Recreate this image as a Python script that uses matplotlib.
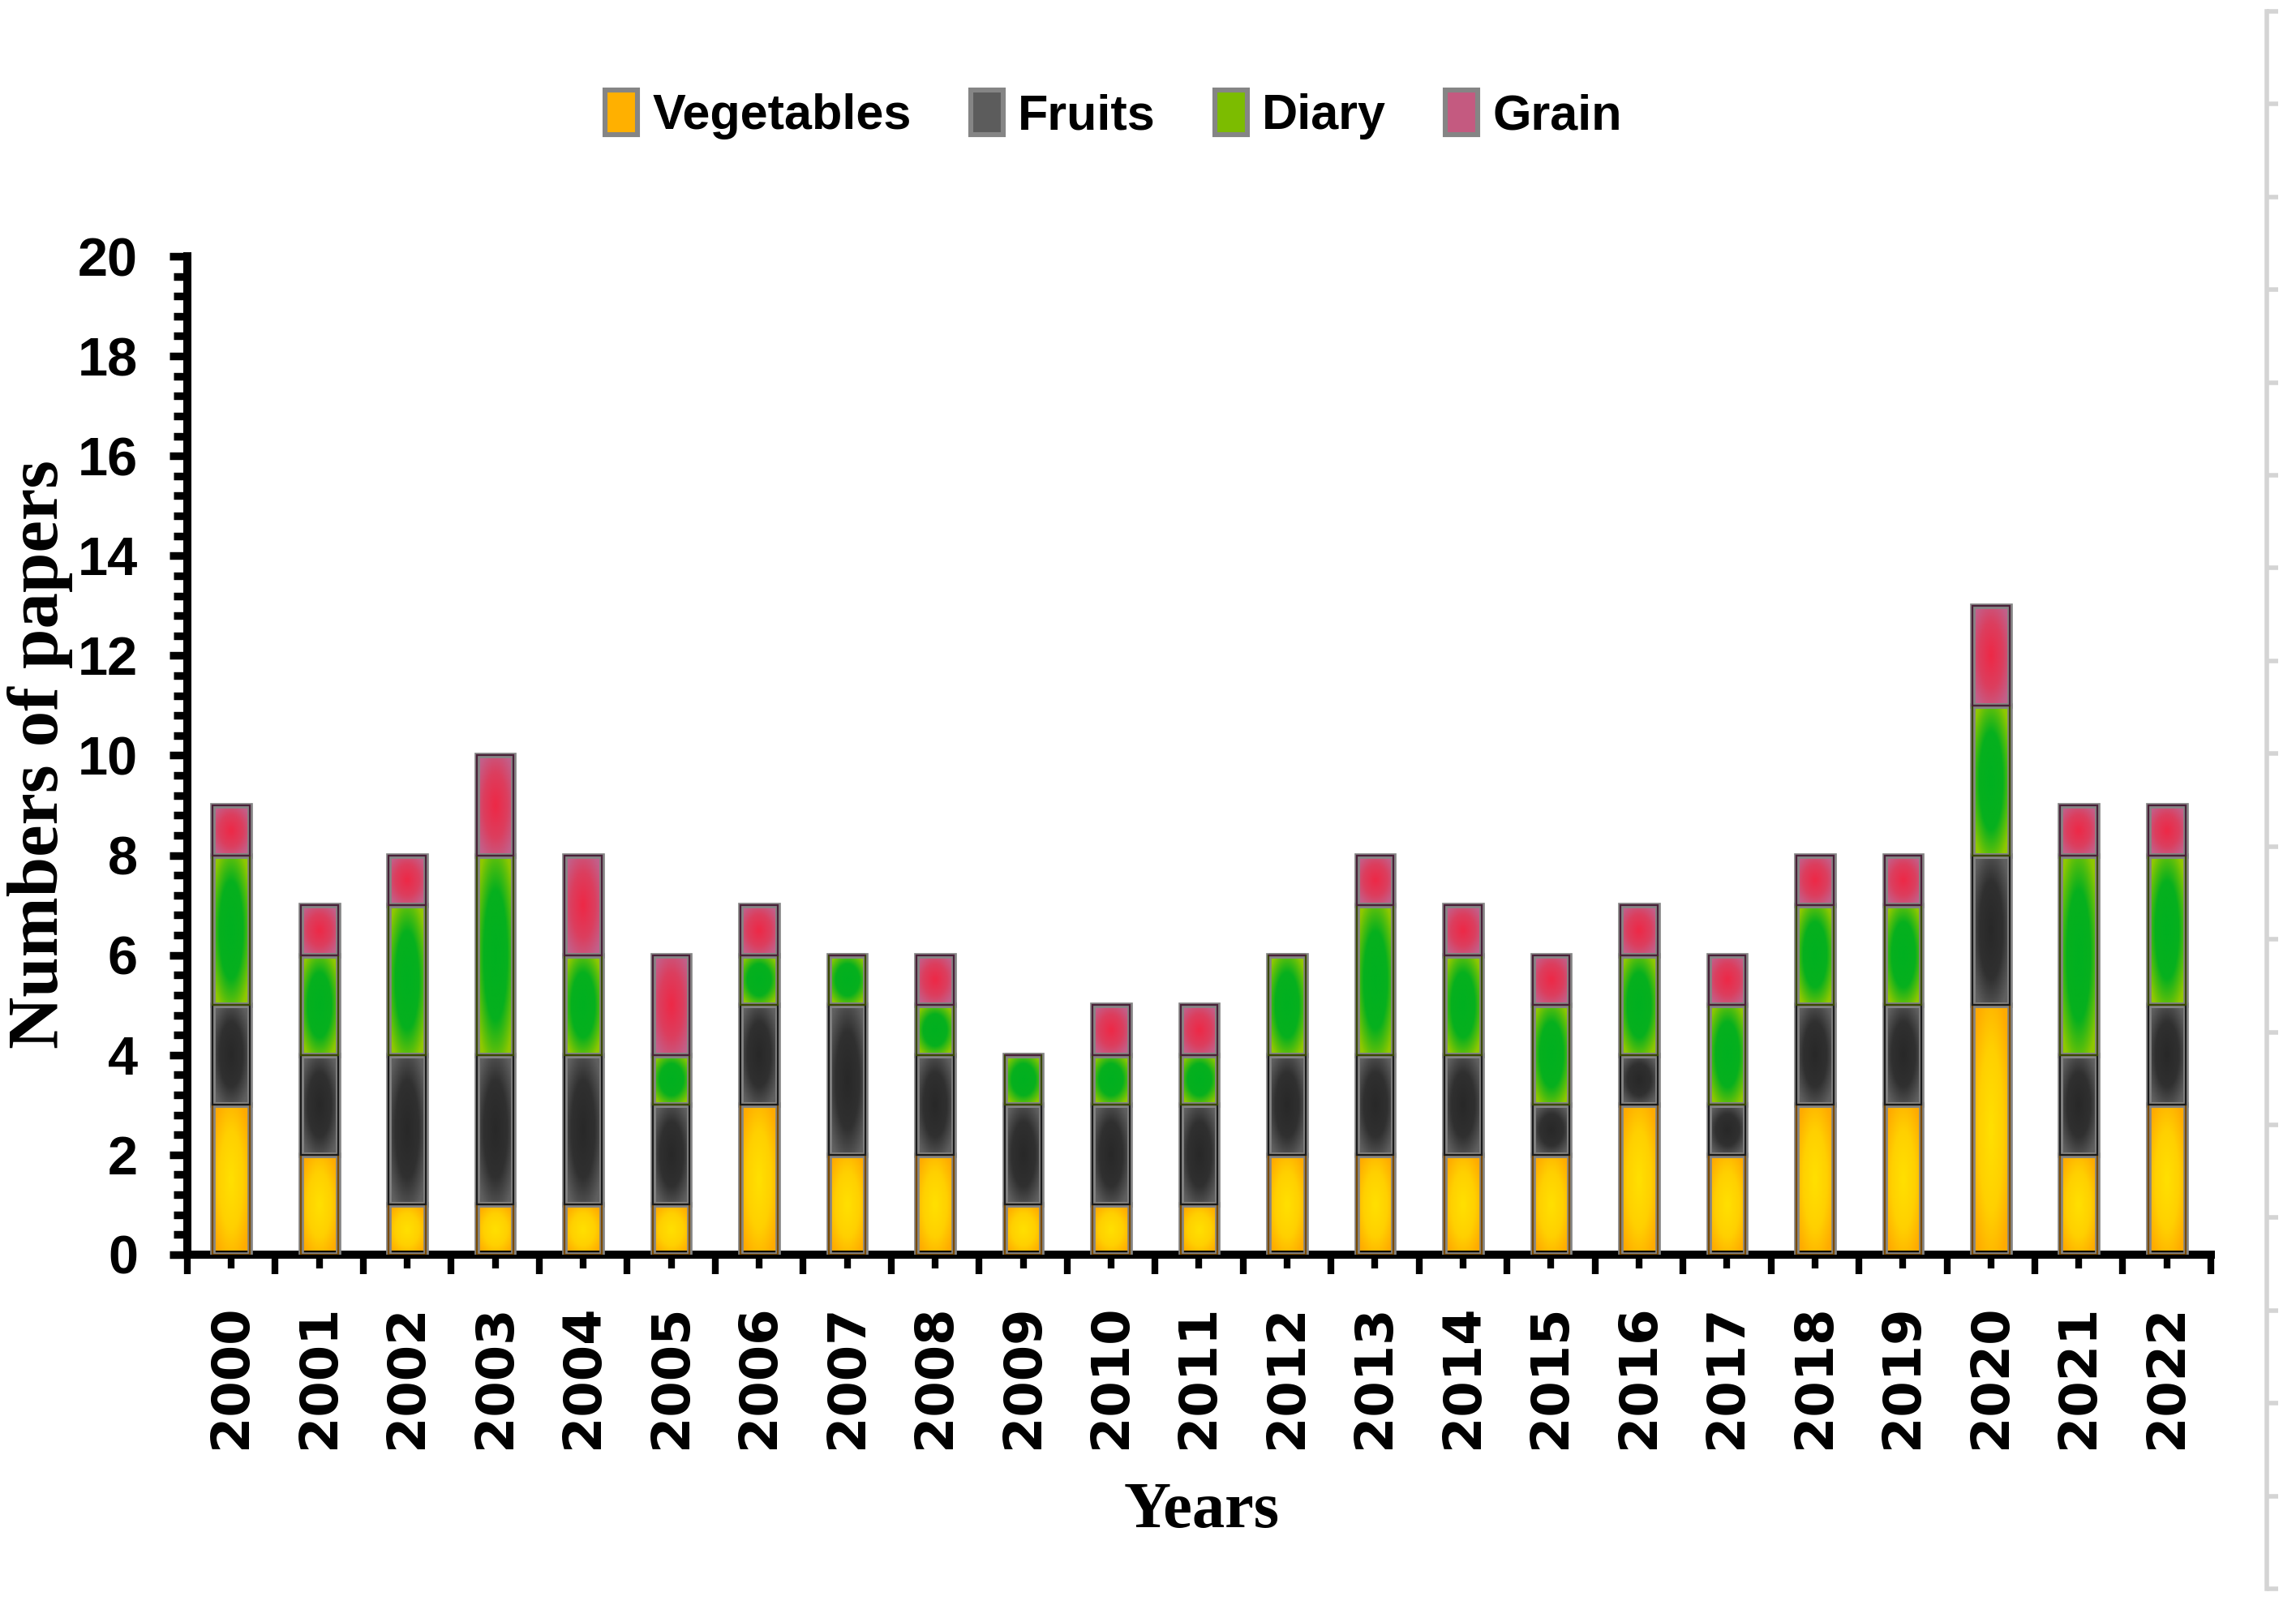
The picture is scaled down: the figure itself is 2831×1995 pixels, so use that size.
import numpy as np
import matplotlib
matplotlib.use('Agg')
import matplotlib.pyplot as plt
from matplotlib.colors import LinearSegmentedColormap
from matplotlib.ticker import MultipleLocator, FixedLocator
from matplotlib.patches import Patch

# ---------------- data ----------------
years = [str(y) for y in range(2000, 2023)]
vegetables = [3, 2, 1, 1, 1, 1, 3, 2, 2, 1, 1, 1, 2, 2, 2, 2, 3, 2, 3, 3, 5, 2, 3]
fruits     = [2, 2, 3, 3, 3, 2, 2, 3, 2, 2, 2, 2, 2, 2, 2, 1, 1, 1, 2, 2, 3, 2, 2]
diary      = [3, 2, 3, 4, 2, 1, 1, 1, 1, 1, 1, 1, 2, 3, 2, 2, 2, 2, 2, 2, 3, 4, 3]
grain      = [1, 1, 1, 2, 2, 2, 1, 0, 1, 0, 1, 1, 0, 1, 1, 1, 1, 1, 1, 1, 2, 1, 1]
series_names = ['Vegetables', 'Fruits', 'Diary', 'Grain']
y_ticks = list(range(0, 21, 2))

# ---------------- styles ----------------
grad_colors = {
    'Vegetables': ['#FFE000', '#FFD000', '#FFAA00'],
    'Fruits':     ['#282828', '#303030', '#606060'],
    'Diary':      ['#00B020', '#06B01E', '#90C800'],
    'Grain':      ['#EE2846', '#DC3E5E', '#C2608A'],
}
inner_dark = {'Vegetables': '#7A4A00', 'Fruits': '#1A1A1A',
              'Diary': '#3A4A00', 'Grain': '#4A2038'}
legend_colors = {'Vegetables': '#FFB000', 'Fruits': '#5C5C5C',
                 'Diary': '#7CBC00', 'Grain': '#C45A80'}
edge_gray = '#858585'
narrow = ['Liberation Sans Narrow', 'Liberation Sans', 'DejaVu Sans']
sans = ['DejaVu Sans']
serif = ['Liberation Serif', 'DejaVu Serif']

fig = plt.figure(figsize=(14.155, 9.975), dpi=200)
ax = fig.add_axes([0.0816, 0.2246, 0.8813, 0.617])

x = np.arange(len(years))
bottom = np.zeros(len(years))
data = [vegetables, fruits, diary, grain]

for name, vals in zip(series_names, data):
    vals = np.array(vals, dtype=float)
    bars = ax.bar(x, vals, width=0.42, bottom=bottom, facecolor='none',
                  edgecolor=edge_gray, linewidth=2.4, zorder=3)
    ax.bar(x, vals, width=0.42, bottom=bottom, facecolor='none',
           edgecolor=inner_dark[name], linewidth=0.8, zorder=3.5)
    cmap = LinearSegmentedColormap.from_list(
        name, [(0.0, grad_colors[name][0]), (0.55, grad_colors[name][1]),
               (1.0, grad_colors[name][2])])
    for rect in bars:
        h = rect.get_height()
        if h <= 0:
            continue
        x0, y0, w = rect.get_x(), rect.get_y(), rect.get_width()
        ny = max(int(h * 24), 12)
        u = np.linspace(-1, 1, 24)
        v = np.linspace(-1, 1, ny)
        U, V = np.meshgrid(u, v)
        r = np.clip(np.sqrt(U ** 2 + V ** 2) / 1.2, 0, 1)
        ax.imshow(r, extent=[x0, x0 + w, y0, y0 + h], cmap=cmap, vmin=0, vmax=1,
                  aspect='auto', interpolation='bilinear', origin='lower', zorder=2)
    bottom += vals

ax.set_xlim(-0.5, 22.5)
ax.set_ylim(0, 20)

for s in ['top', 'right']:
    ax.spines[s].set_visible(False)
for s in ['left', 'bottom']:
    ax.spines[s].set_linewidth(3.6)
    ax.spines[s].set_color('black')

ax.set_yticks(y_ticks)
ax.yaxis.set_minor_locator(MultipleLocator(0.4))
ax.tick_params(axis='y', which='major', length=8, width=3.4, pad=14, labelsize=24)
ax.tick_params(axis='y', which='minor', length=6, width=3.4)
for lbl in ax.get_yticklabels():
    lbl.set_family(narrow)
    lbl.set_fontweight('bold')

ax.set_xticks(x)
ax.set_xticklabels(years, rotation=90)
ax.xaxis.set_minor_locator(FixedLocator(np.arange(-0.5, 23, 1)))
ax.tick_params(axis='x', which='major', length=6, width=3, pad=16, labelsize=23)
ax.tick_params(axis='x', which='minor', length=8.5, width=3)
for lbl in ax.get_xticklabels():
    lbl.set_family(sans)
    lbl.set_fontweight('bold')

fig.text(0.0175, 0.534, 'Numbers of papers', rotation=90, ha='center', va='center',
         family=serif, fontweight='bold', fontsize=32)
fig.text(0.5235, 0.066, 'Years', ha='center', va='center',
         family=serif, fontweight='bold', fontsize=29)

handles = [Patch(facecolor=legend_colors[n], edgecolor=edge_gray, linewidth=2.2)
           for n in series_names]
fig.legend(handles, series_names, loc='center', bbox_to_anchor=(0.485, 0.929),
           ncol=4, frameon=False,
           prop=dict(family=narrow, weight='bold', size=22),
           handlelength=0.65, handleheight=1.0, handletextpad=0.3,
           columnspacing=1.2)

# faint decorative frame line on the right edge
deco = fig.add_axes([0.9873, 0.018, 0.0005, 0.975])
deco.set_facecolor('none')
for s in ['top', 'right', 'bottom']:
    deco.spines[s].set_visible(False)
deco.spines['left'].set_color('#d4d4d4')
deco.spines['left'].set_linewidth(2)
deco.set_xticks([])
deco.set_ylim(0, 17)
deco.yaxis.set_major_locator(MultipleLocator(1))
deco.tick_params(axis='y', direction='in', length=5, width=2, color='#d4d4d4',
                 labelleft=False)

fig.savefig('out.png', dpi=200)
